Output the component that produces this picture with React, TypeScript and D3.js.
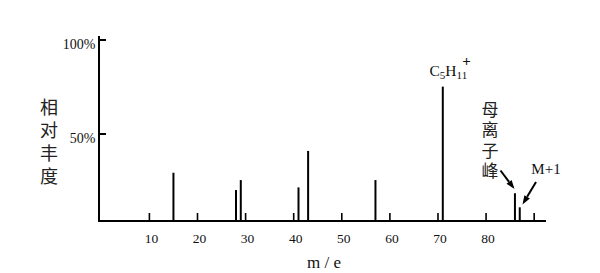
import React from "react";
import * as d3 from "d3";

const masses = [15, 28, 29, 41, 43, 57, 71, 86, 87];
const abundances = [29.4, 20.2, 25.5, 21.6, 41.0, 25.5, 75.2, 18.5, 11.0];
const xTicks = [10, 20, 30, 40, 50, 60, 70, 80, 90];
const xTickLabels = ["10", "20", "30", "40", "50", "60", "70", "80", ""];
const yTicks = [50, 100];
const yTickLabels = ["50%", "100%"];
const yTitle = "相对丰度";
const parentTitle = "母离子峰";

const W = 600;
const H = 273;
const axisX = 99;
const baseY = 221;

export default function App() {
  const x = d3.scaleLinear().domain([0, 92]).range([101.3, 543.8]);
  const y = d3.scaleLinear().domain([0, 100]).range([228, 40]);
  const serif = "'Liberation Serif', 'DejaVu Serif', serif";
  const cjk = "'Noto Sans CJK SC', sans-serif";

  const arrow = (x1: number, y1: number, x2: number, y2: number) => {
    const ang = Math.atan2(y2 - y1, x2 - x1);
    const len = 9;
    const w = 3.2;
    const bx = x2 - len * Math.cos(ang);
    const by = y2 - len * Math.sin(ang);
    const px = -Math.sin(ang) * w;
    const py = Math.cos(ang) * w;
    return (
      <g>
        <line x1={x1} y1={y1} x2={bx} y2={by} stroke="#000" strokeWidth={2} />
        <path d={`M${x2},${y2}L${bx + px},${by + py}L${bx - px},${by - py}Z`} fill="#000" />
      </g>
    );
  };

  return (
    <svg width={W} height={H} style={{ position: "absolute", left: 0, top: 0, background: "#fff" }}>
      <rect width={W} height={H} fill="#fff" />
      {/* axes */}
      <line x1={axisX} y1={36} x2={axisX} y2={baseY + 1} stroke="#000" strokeWidth={2} />
      <line x1={axisX - 1} y1={baseY} x2={546} y2={baseY} stroke="#000" strokeWidth={2} />
      {yTicks.map((t, i) => (
        <g key={t}>
          <line x1={axisX} y1={y(t)} x2={axisX + 7} y2={y(t)} stroke="#000" strokeWidth={2} />
          <text x={95.5} y={y(t) + 9} textAnchor="end" fontFamily={serif} fontSize={14} fill="#111">
            {yTickLabels[i]}
          </text>
        </g>
      ))}
      {xTicks.map((t, i) => (
        <g key={t}>
          <line x1={x(t)} y1={baseY} x2={x(t)} y2={baseY - 8} stroke="#000" strokeWidth={1.6} />
          {xTickLabels[i] && (
            <text x={x(t) + 2} y={243} textAnchor="middle" fontFamily={serif} fontSize={13.5} fill="#111">
              {xTickLabels[i]}
            </text>
          )}
        </g>
      ))}
      {/* peaks */}
      {masses.map((m, i) => (
        <line key={m} x1={x(m)} y1={baseY} x2={x(m)} y2={y(abundances[i])} stroke="#000" strokeWidth={2} />
      ))}
      {/* y title */}
      <text
        x={49}
        y={98}
        writingMode="vertical-rl"
        style={{ writingMode: "vertical-rl", letterSpacing: "5px" }}
        fontFamily={cjk}
        fontSize={18}
        fill="#222"
      >
        {yTitle}
      </text>
      {/* x title */}
      <text x={324} y={268} textAnchor="middle" fontFamily={serif} fontSize={17} fill="#111">
        m / e
      </text>
      {/* C5H11+ */}
      <text x={429.5} y={76} fontFamily={serif} fontSize={15.5} fill="#111">
        C<tspan dy={3} fontSize={11}>5</tspan>
        <tspan dy={-3}>H</tspan>
        <tspan dy={3} fontSize={11}>11</tspan>
      </text>
      <text x={466.5} y={66} textAnchor="middle" fontFamily={serif} fontSize={15} fontWeight="bold" fill="#111">
        +
      </text>
      {/* parent ion */}
      <text
        x={490}
        y={101}
        writingMode="vertical-rl"
        style={{ writingMode: "vertical-rl", letterSpacing: "3.5px" }}
        fontFamily={cjk}
        fontSize={17}
        fill="#222"
      >
        {parentTitle}
      </text>
      {arrow(500.5, 170.5, 514.5, 189)}
      <text x={546} y={174} textAnchor="middle" fontFamily={serif} fontSize={15} fill="#111">
        M+1
      </text>
      {arrow(536, 182, 522.5, 204.5)}
    </svg>
  );
}
